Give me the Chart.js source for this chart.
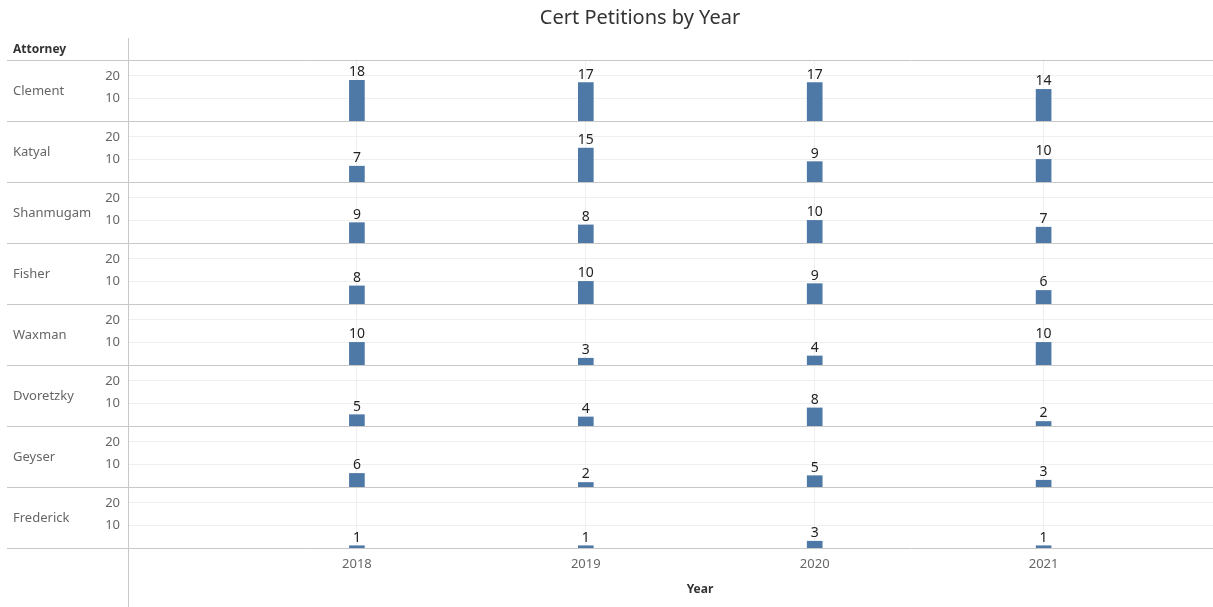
<!DOCTYPE html>
<html>
<head>
<meta charset="utf-8">
<script src="https://cdn.jsdelivr.net/npm/chart.js@4"></script>
<style>
html,body{margin:0;padding:0;background:#fff;}
#wrap{width:1213px;height:607px;position:relative;}
</style>
</head>
<body>
<div id="wrap"><canvas id="c" width="1213" height="607"></canvas></div>
<script>
const years = [2018, 2019, 2020, 2021];
const attorneys = ["Clement", "Katyal", "Shanmugam", "Fisher", "Waxman", "Dvoretzky", "Geyser", "Frederick"];
const clement   = [18, 17, 17, 14];
const katyal    = [7, 15, 9, 10];
const shanmugam = [9, 8, 10, 7];
const fisher    = [8, 10, 9, 6];
const waxman    = [10, 3, 4, 10];
const dvoretzky = [5, 4, 8, 2];
const geyser    = [6, 2, 5, 3];
const frederick = [1, 1, 3, 1];
const seriesValues = [clement, katyal, shanmugam, fisher, waxman, dvoretzky, geyser, frederick];
const yTickValues = [10, 20];
const chartTitle = "Cert Petitions by Year";
const rowHeader = "Attorney";
const xTitle = "Year";

const FONT = "'Noto Sans', 'Open Sans', sans-serif";
const BAR = "#4e79a7";
const GRID = "#efefef";
const SEP = "#c8c8c8";

const datasets = seriesValues.map((vals, i) => ({
  label: attorneys[i],
  data: vals.map((v, j) => ({x: years[j], y: v})),
  yAxisID: 'y' + i,
  backgroundColor: BAR,
  barThickness: 15,
  grouped: false
}));

const scales = {
  x: {
    type: 'linear',
    position: 'bottom',
    offset: false,
    min: 2017,
    max: 2021.74,
    afterBuildTicks: s => { s.ticks = years.map(v => ({value: v})); },
    afterFit: s => { s.height = 59; },
    grid: {color: GRID, drawTicks: false, offset: false},
    border: {display: false},
    ticks: {
      padding: 8,
      color: '#666',
      font: {family: FONT, size: 13},
      callback: v => String(v)
    }
  }
};
attorneys.forEach((a, i) => {
  scales['y' + i] = {
    type: 'linear',
    position: 'left',
    stack: 'att',
    stackWeight: 1,
    weight: 100 - i,
    min: 0,
    max: 27,
    afterBuildTicks: s => { s.ticks = yTickValues.map(v => ({value: v})); },
    afterFit: s => { s.width = 128; },
    grid: {color: GRID, drawTicks: false},
    border: {display: false},
    ticks: {
      padding: 8,
      color: '#666',
      font: {family: FONT, size: 13}
    }
  };
});

const decor = {
  id: 'decor',
  afterDraw(chart) {
    const ctx = chart.ctx;
    const area = chart.chartArea;
    ctx.save();
    ctx.strokeStyle = SEP;
    ctx.lineWidth = 1;
    attorneys.forEach((a, i) => {
      const s = chart.scales['y' + i];
      [s.top, s.bottom].forEach(yy => {
        const y = Math.round(yy) + 0.5;
        ctx.beginPath(); ctx.moveTo(7, y); ctx.lineTo(chart.width, y); ctx.stroke();
      });
      ctx.fillStyle = '#666';
      ctx.font = "13px " + FONT;
      ctx.textAlign = 'left';
      ctx.textBaseline = 'middle';
      ctx.fillText(a, 13, (s.top + s.bottom) / 2 + 1);
    });
    const xv = Math.round(area.left) + 0.5;
    ctx.beginPath(); ctx.moveTo(xv, 38); ctx.lineTo(xv, chart.height); ctx.stroke();
    ctx.fillStyle = '#333';
    ctx.font = "bold 12px " + FONT;
    ctx.textAlign = 'left';
    ctx.textBaseline = 'middle';
    ctx.fillText(rowHeader, 13, 50);
    ctx.font = "20px " + FONT;
    ctx.textAlign = 'center';
    ctx.fillText(chartTitle, 640, 18);
    ctx.font = "bold 12px " + FONT;
    ctx.fillText(xTitle, 700, 590);
    ctx.fillStyle = '#222';
    ctx.font = "14px " + FONT;
    ctx.textAlign = 'center';
    ctx.textBaseline = 'alphabetic';
    chart.data.datasets.forEach((ds, di) => {
      const meta = chart.getDatasetMeta(di);
      meta.data.forEach((bar, j) => {
        ctx.fillText(String(ds.data[j].y), bar.x, bar.y - 4);
      });
    });
    ctx.restore();
  }
};

new Chart(document.getElementById('c'), {
  type: 'bar',
  data: {datasets},
  options: {
    responsive: false,
    animation: false,
    layout: {padding: {top: 60, left: 0, right: 0, bottom: 0}},
    plugins: {legend: {display: false}, tooltip: {enabled: false}, title: {display: false}},
    scales
  },
  plugins: [decor]
});
</script>
</body>
</html>
